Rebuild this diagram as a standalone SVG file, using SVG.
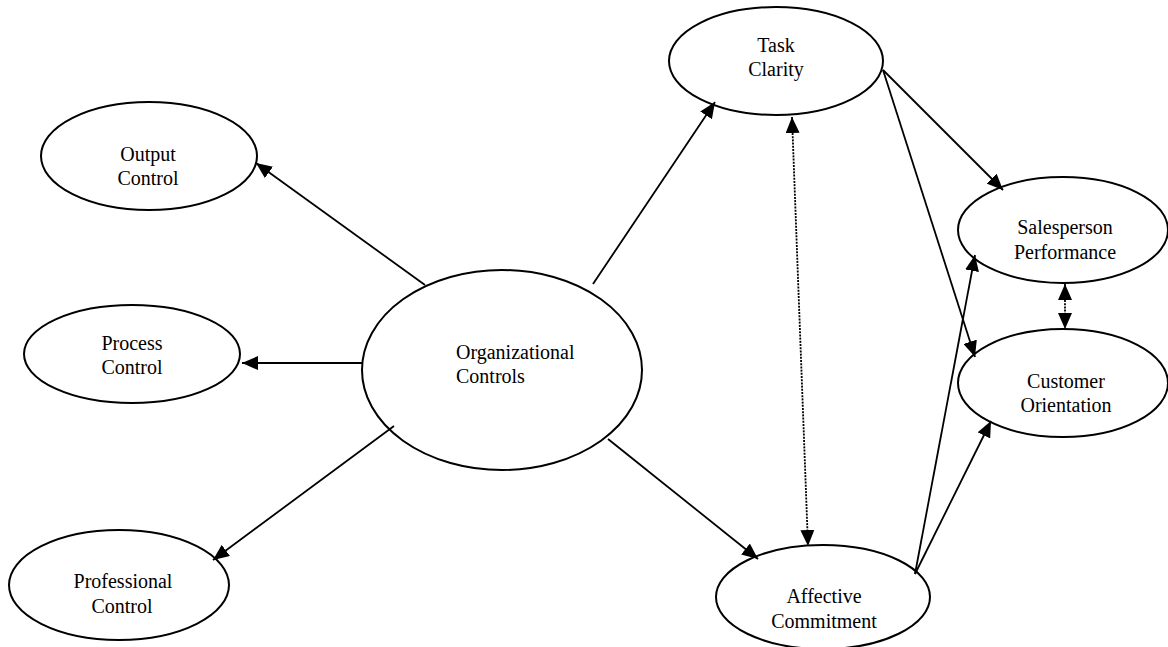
<svg xmlns="http://www.w3.org/2000/svg" width="1168" height="647" viewBox="0 0 1168 647">
<style>
.node ellipse{fill:#fff;stroke:#000;stroke-width:2}
.node text{font-family:"Liberation Serif","Times New Roman",serif;font-size:20px;fill:#000;text-anchor:middle}
.conn line{stroke:#000;stroke-width:1.8;fill:none}
.conn line.solid{marker-end:url(#ah)}
.conn line.dot{stroke-dasharray:2 1.2;marker-start:url(#ah);marker-end:url(#ah)}
</style>
<defs>
<marker id="ah" viewBox="0 0 16 14" refX="16" refY="7" markerWidth="16" markerHeight="14" markerUnits="userSpaceOnUse" orient="auto-start-reverse">
<path d="M0,0 L16,7 L0,14 Z" fill="#000"/>
</marker>
</defs>
<rect width="1168" height="647" fill="#fff"/>
<g id="n-output" class="node"><ellipse cx="149" cy="156" rx="108" ry="54"/><text x="148" y="161">Output</text><text x="148" y="185">Control</text></g>
<g id="n-process" class="node"><ellipse cx="132" cy="354" rx="108" ry="49"/><text x="132" y="350">Process</text><text x="132" y="374">Control</text></g>
<g id="n-professional" class="node"><ellipse cx="119" cy="585" rx="110" ry="55"/><text x="123" y="588">Professional</text><text x="122" y="613">Control</text></g>
<g id="n-org" class="node"><ellipse cx="502" cy="370" rx="140" ry="100"/><text x="456" y="359" style="text-anchor:start">Organizational</text><text x="456" y="383" style="text-anchor:start">Controls</text></g>
<g id="n-task" class="node"><ellipse cx="776" cy="61" rx="107" ry="54"/><text x="776" y="52">Task</text><text x="776" y="76">Clarity</text></g>
<g id="n-sales" class="node"><ellipse cx="1063" cy="230" rx="105" ry="53"/><text x="1065" y="234">Salesperson</text><text x="1065" y="259">Performance</text></g>
<g id="n-customer" class="node"><ellipse cx="1063" cy="383" rx="105" ry="54"/><text x="1066" y="388">Customer</text><text x="1066" y="412">Orientation</text></g>
<g id="n-affective" class="node"><ellipse cx="823" cy="597" rx="107" ry="52"/><text x="824" y="603">Affective</text><text x="824" y="628">Commitment</text></g>
<g id="connectors" class="conn">
<line class="solid" x1="425" y1="285" x2="256" y2="163"/>
<line class="solid" x1="363" y1="363" x2="242" y2="363"/>
<line class="solid" x1="394" y1="426" x2="213" y2="560"/>
<line class="solid" x1="593" y1="284" x2="715" y2="102"/>
<line class="solid" x1="608" y1="439" x2="758" y2="559"/>
<line class="solid" x1="883" y1="70" x2="1003" y2="190"/>
<line class="solid" x1="883" y1="70" x2="975" y2="357"/>
<line class="solid" x1="915" y1="574" x2="975" y2="255"/>
<line class="solid" x1="915" y1="574" x2="991" y2="421"/>
<line class="dot" x1="792" y1="117" x2="808" y2="546"/>
<line class="dot" x1="1065" y1="284" x2="1065" y2="329"/>
</g>
</svg>
